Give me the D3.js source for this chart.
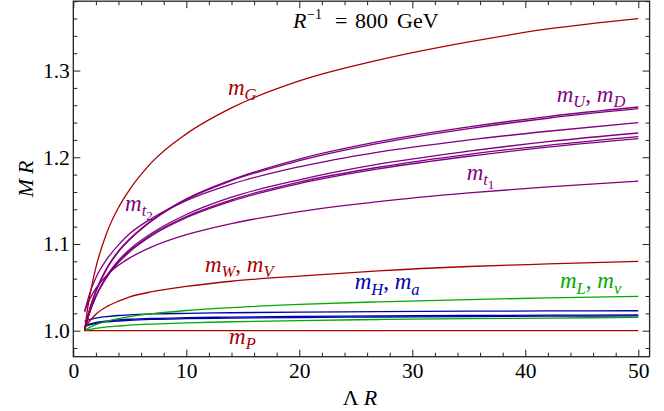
<!DOCTYPE html>
<html><head><meta charset="utf-8">
<script src="https://cdn.jsdelivr.net/npm/d3@7"></script>
<style>
html,body{margin:0;padding:0;background:#fff;}
svg{display:block;font-family:"Liberation Serif","DejaVu Serif",serif;}
</style></head>
<body><svg id="c" width="664" height="411"></svg>
<script>
// ---- data ----
const xs     = [1, 1.25, 1.5, 2, 3, 4, 5, 7, 10, 14, 20, 27, 35, 42, 50];
const mG     = [1.000, 1.024, 1.043, 1.073, 1.114, 1.142, 1.163, 1.195, 1.227, 1.257, 1.288, 1.312, 1.333, 1.348, 1.360];
const mUD1   = [1.000, 1.015, 1.027, 1.046, 1.073, 1.092, 1.106, 1.128, 1.152, 1.174, 1.198, 1.218, 1.235, 1.247, 1.258];
const mUD2   = [1.000, 1.015, 1.027, 1.045, 1.072, 1.091, 1.105, 1.127, 1.151, 1.173, 1.196, 1.216, 1.233, 1.245, 1.256];
const mT2    = [1.022, 1.034, 1.045, 1.061, 1.083, 1.099, 1.112, 1.130, 1.150, 1.169, 1.189, 1.206, 1.220, 1.230, 1.240];
const mQa    = [1.000, 1.013, 1.024, 1.040, 1.064, 1.081, 1.094, 1.113, 1.134, 1.154, 1.174, 1.192, 1.207, 1.218, 1.228];
const mQb    = [1.000, 1.0128, 1.0232, 1.0396, 1.0628, 1.0793, 1.0921, 1.1113, 1.1317, 1.1510, 1.1714, 1.1885, 1.2034, 1.2138, 1.2238];
const mQc    = [1.000, 1.0126, 1.0230, 1.0392, 1.0622, 1.0785, 1.0911, 1.1101, 1.1303, 1.1494, 1.1696, 1.1865, 1.2012, 1.2116, 1.2214];
const mT1    = [1.022, 1.0306, 1.0376, 1.0487, 1.0643, 1.0754, 1.0840, 1.0969, 1.1107, 1.1236, 1.1373, 1.1489, 1.1589, 1.1659, 1.1726];
const mWV    = [1.004, 1.008, 1.012, 1.019, 1.028, 1.034, 1.039, 1.045, 1.051, 1.057, 1.063, 1.069, 1.074, 1.077, 1.080];
const mLnu   = [1.000, 1.0023, 1.0041, 1.0070, 1.0111, 1.0140, 1.0163, 1.0197, 1.0233, 1.0267, 1.0303, 1.0333, 1.0359, 1.0378, 1.0395];
const mE     = [1.000, 1.0009, 1.0016, 1.0027, 1.0043, 1.0054, 1.0063, 1.0076, 1.0090, 1.0103, 1.0117, 1.0129, 1.0139, 1.0146, 1.0153];
const mH     = [1.011, 1.012, 1.013, 1.0145, 1.0163, 1.0175, 1.0183, 1.0193, 1.0200, 1.0207, 1.0215, 1.0220, 1.0225, 1.0228, 1.0230];
const mA1    = [1.005, 1.0065, 1.0078, 1.0095, 1.0113, 1.0124, 1.0132, 1.0142, 1.0150, 1.0157, 1.0164, 1.0170, 1.0175, 1.0179, 1.0182];
const mA2    = [1.005, 1.0060, 1.0070, 1.0085, 1.0102, 1.0112, 1.0120, 1.0130, 1.0138, 1.0145, 1.0152, 1.0158, 1.0163, 1.0167, 1.0170];
const mP     = [1.000, 1.000, 1.000, 1.000, 1.000, 1.000, 1.000, 1.000, 1.000, 1.000, 1.000, 1.000, 1.000, 1.000, 1.000];

const xMajor = [0, 10, 20, 30, 40, 50];
const yMajor = [1.0, 1.1, 1.2, 1.3];
const xTickLabels = ["0", "10", "20", "30", "40", "50"];
const yTickLabels = ["1.0", "1.1", "1.2", "1.3"];

// ---- styling / layout ----
const RED = "#aa0000", PURPLE = "#800080", GREEN = "#00aa00", BLUE = "#0000aa";
const series = [
  {v: mP, c: RED}, {v: mE, c: GREEN}, {v: mA2, c: BLUE}, {v: mA1, c: BLUE}, {v: mH, c: BLUE},
  {v: mLnu, c: GREEN}, {v: mWV, c: RED},
  {v: mT1, c: PURPLE}, {v: mQc, c: PURPLE}, {v: mQb, c: PURPLE}, {v: mQa, c: PURPLE},
  {v: mT2, c: PURPLE}, {v: mUD2, c: PURPLE}, {v: mUD1, c: PURPLE}, {v: mG, c: RED}
];

const W = 664, H = 411;
const m = {l: 73.3, r: 14.4, t: 1.2, b: 54.3};
const svg = d3.select("#c");
const x = d3.scaleLinear().domain([0, 51]).range([m.l, W - m.r]);
const y = d3.scaleLinear().domain([0.97, 1.38]).range([H - m.b, m.t]);

const line = d3.line().x((d) => x(d[0])).y((d) => y(d[1])).curve(d3.curveMonotoneX);
svg.append("defs").append("clipPath").attr("id", "clip")
  .append("rect").attr("x", x(0)).attr("y", y(1.38)).attr("width", x(51) - x(0)).attr("height", y(0.97) - y(1.38));
const g = svg.append("g").attr("clip-path", "url(#clip)");
series.forEach((s) => {
  g.append("path").attr("d", line(xs.map((xv, i) => [xv, s.v[i]])))
    .attr("fill", "none").attr("stroke", s.c).attr("stroke-width", 1.3);
});

// ---- frame with inward ticks on all sides ----
const xMinor = d3.range(0, 51, 2).filter((v) => v % 10 !== 0);
const yMinor = d3.range(0.98, 1.381, 0.02).map((v) => +v.toFixed(2)).filter((v) => Math.abs(v * 10 - Math.round(v * 10)) > 1e-6);
const MAJ = 7, MIN = 4;
const axB = d3.axisBottom(x).tickValues(xMajor).tickSizeInner(-MAJ).tickSizeOuter(0).tickPadding(6).tickFormat((d, i) => xTickLabels[i]);
const axL = d3.axisLeft(y).tickValues(yMajor).tickSizeInner(-MAJ).tickSizeOuter(0).tickPadding(3.5).tickFormat((d, i) => yTickLabels[i]);
svg.append("g").attr("transform", `translate(0,${y(0.97)})`).call(axB);
svg.append("g").attr("transform", `translate(${x(0)},0)`).call(axL);
svg.append("g").attr("transform", `translate(0,${y(0.97)})`).call(d3.axisBottom(x).tickValues(xMinor).tickSizeInner(-MIN).tickSizeOuter(0).tickFormat(""));
svg.append("g").attr("transform", `translate(${x(0)},0)`).call(d3.axisLeft(y).tickValues(yMinor).tickSizeInner(-MIN).tickSizeOuter(0).tickFormat(""));
svg.append("g").attr("transform", `translate(0,${y(1.38)})`).call(d3.axisTop(x).tickValues(xMajor).tickSizeInner(-MAJ).tickSizeOuter(0).tickFormat(""));
svg.append("g").attr("transform", `translate(0,${y(1.38)})`).call(d3.axisTop(x).tickValues(xMinor).tickSizeInner(-MIN).tickSizeOuter(0).tickFormat(""));
svg.append("g").attr("transform", `translate(${x(51)},0)`).call(d3.axisRight(y).tickValues(yMajor).tickSizeInner(-MAJ).tickSizeOuter(0).tickFormat(""));
svg.append("g").attr("transform", `translate(${x(51)},0)`).call(d3.axisRight(y).tickValues(yMinor).tickSizeInner(-MIN).tickSizeOuter(0).tickFormat(""));
svg.selectAll(".domain").remove();
svg.selectAll(".tick line").attr("stroke", "#222").attr("stroke-width", 1);
svg.selectAll(".tick text").attr("font-family", "Liberation Serif").attr("font-size", 21.5).attr("fill", "#000");
svg.append("rect").attr("x", x(0)).attr("y", y(1.38)).attr("width", x(51) - x(0)).attr("height", y(0.97) - y(1.38))
  .attr("fill", "none").attr("stroke", "#222").attr("stroke-width", 1.3);

// axis titles
svg.append("text").attr("x", 360).attr("y", 405).attr("text-anchor", "middle").attr("font-size", 22)
  .html('<tspan>Λ</tspan><tspan font-style="italic" dx="5">R</tspan>');
svg.append("text").attr("transform", `translate(33,${y(1.175)}) rotate(-90)`).attr("text-anchor", "middle").attr("font-size", 22)
  .html('<tspan font-style="italic">M</tspan><tspan font-style="italic" dx="5">R</tspan>');

// title (pieces placed to match the reference spacing)
const tt = svg.append("text").attr("y", 28).attr("font-size", 22);
tt.append("tspan").attr("x", 293).attr("font-style", "italic").text("R");
tt.append("tspan").attr("x", 307).attr("font-size", 14).attr("dy", -9).text("−1");
tt.append("tspan").attr("x", 335).attr("dy", 9).text("=");
tt.append("tspan").attr("x", 355).text("800");
tt.append("tspan").attr("x", 397).text("GeV");

// curve labels: kinds m (main italic), s (subscript italic), ss (sub-sub roman), n (normal)
function label(xv, yv, color, parts) {
  const t = svg.append("text").attr("x", x(xv)).attr("y", y(yv)).attr("fill", color).attr("font-size", 23);
  let level = 0;
  parts.forEach(([txt, kind]) => {
    const target = kind === "s" ? 1 : kind === "ss" ? 2 : 0;
    const offs = [0, 5.5, 9];
    const sp = t.append("tspan").text(txt).attr("dy", offs[target] - offs[level]);
    if (kind !== "n" && kind !== "ss") sp.attr("font-style", "italic");
    if (kind === "s") sp.attr("font-size", 16.5);
    if (kind === "ss") sp.attr("font-size", 13);
    level = target;
  });
}
label(13.69, 1.2719, RED, [["m", "m"], ["G", "s"]]);
label(42.78, 1.2641, PURPLE, [["m", "m"], ["U", "s"], [", ", "n"], ["m", "m"], ["D", "s"]]);
label(34.81, 1.1738, PURPLE, [["m", "m"], ["t", "s"], ["1", "ss"]]);
label(4.58, 1.1384, PURPLE, [["m", "m"], ["t", "s"], ["2", "ss"]]);
label(11.65, 1.068, RED, [["m", "m"], ["W", "s"], [", ", "n"], ["m", "m"], ["V", "s"]]);
label(24.9, 1.0478, BLUE, [["m", "m"], ["H", "s"], [", ", "n"], ["m", "m"], ["a", "s"]]);
label(43.07, 1.0489, GREEN, [["m", "m"], ["L", "s"], [", ", "n"], ["m", "m"], ["ν", "s"]]);
label(13.78, 0.9847, RED, [["m", "m"], ["P", "s"]]);
</script></body></html>
